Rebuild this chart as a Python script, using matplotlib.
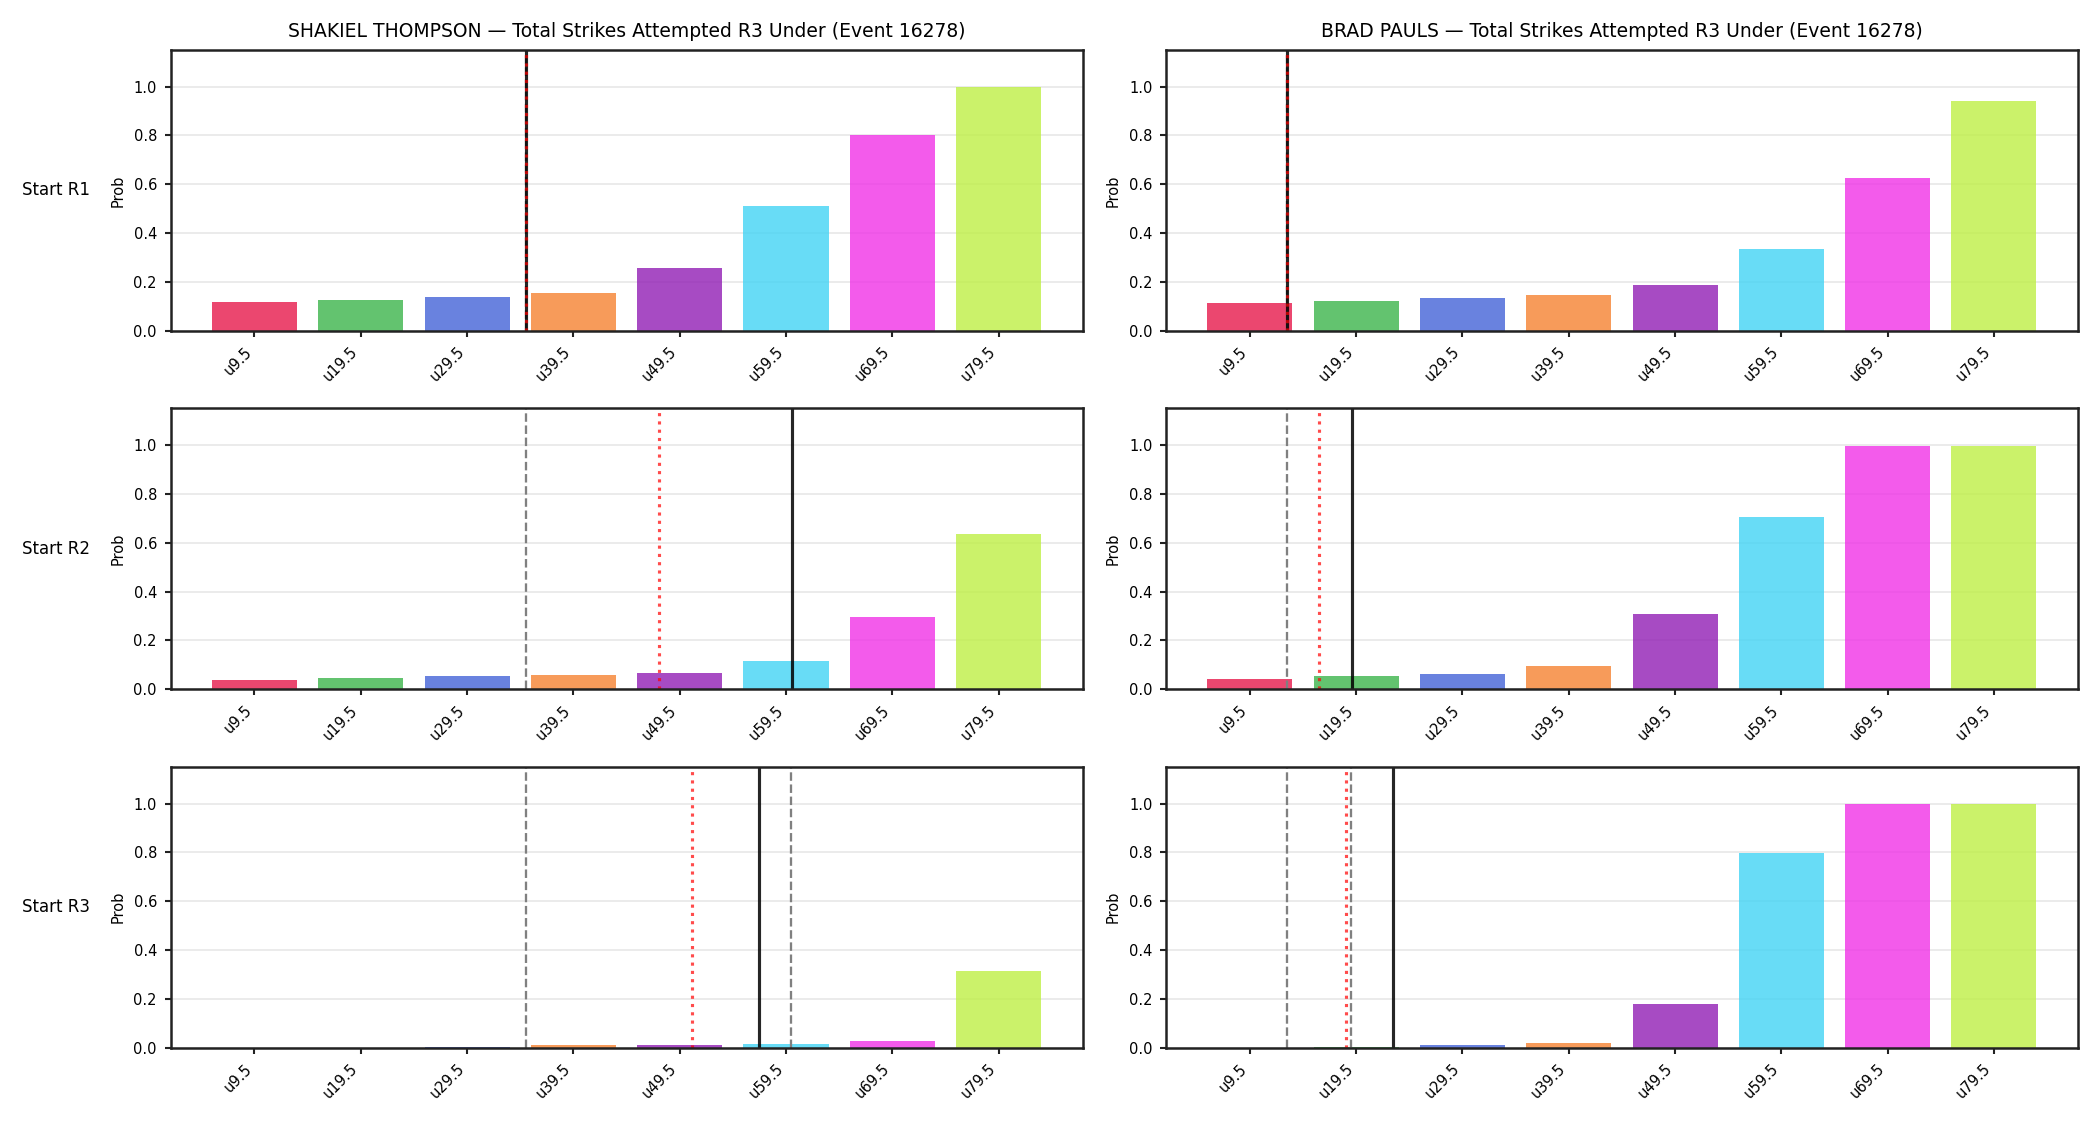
import numpy as np
import matplotlib.pyplot as plt

# under-lines on the x axis
lines_lbl = ["u9.5", "u19.5", "u29.5", "u39.5", "u49.5", "u59.5", "u69.5", "u79.5"]
thresholds = [9.5, 19.5, 29.5, 39.5, 49.5, 59.5, 69.5, 79.5]
colors = ["#e6194b", "#3cb44b", "#4363d8", "#f58231", "#911eb4", "#42d4f4", "#f032e6", "#bfef45"]

fighters = ["SHAKIEL THOMPSON", "BRAD PAULS"]
rounds = ["Start R1", "Start R2", "Start R3"]
event_id = 16278

# probabilities per round start
thompson_r1 = [0.119, 0.126, 0.140, 0.156, 0.259, 0.512, 0.800, 0.999]
thompson_r2 = [0.036, 0.044, 0.056, 0.060, 0.068, 0.115, 0.295, 0.635]
thompson_r3 = [0.000, 0.000, 0.002, 0.010, 0.010, 0.014, 0.026, 0.313]

pauls_r1 = [0.114, 0.122, 0.136, 0.147, 0.188, 0.336, 0.627, 0.940]
pauls_r2 = [0.041, 0.056, 0.064, 0.094, 0.308, 0.704, 0.997, 0.997]
pauls_r3 = [0.000, 0.003, 0.010, 0.018, 0.178, 0.796, 0.997, 0.997]

# reference strike counts (gray dashed), projection (red dotted), pace (black)
thompson_ref = [[35.0], [35.0], [35.0, 60.0]]
thompson_proj = [35.0, 47.6, 50.7]
thompson_pace = [35.0, 60.1, 57.0]

pauls_ref = [[13.0], [13.0], [13.0, 19.0]]
pauls_proj = [13.0, 16.0, 18.5]
pauls_pace = [13.0, 19.1, 23.0]

probs = [[thompson_r1, thompson_r2, thompson_r3], [pauls_r1, pauls_r2, pauls_r3]]
refs = [thompson_ref, pauls_ref]
projs = [thompson_proj, pauls_proj]
paces = [thompson_pace, pauls_pace]


def to_x(v):
    return np.interp(v, thresholds, np.arange(len(thresholds)))


fig, axes = plt.subplots(3, 2, figsize=(14, 7.5), dpi=150)
fig.subplots_adjust(left=0.0812, right=0.9895, top=0.9556, bottom=0.0687,
                    wspace=0.0914, hspace=0.2766)

x = np.arange(len(lines_lbl))
for c in range(2):
    for r in range(3):
        ax = axes[r, c]
        ax.bar(x, probs[c][r], color=colors, alpha=0.8)
        for v in refs[c][r]:
            ax.axvline(to_x(v), color="gray", ls="--", lw=1.1)
        ax.axvline(to_x(paces[c][r]), color="k", lw=1.5, alpha=0.85)
        ax.axvline(to_x(projs[c][r]), color="red", ls=":", lw=1.5, alpha=0.7)
        ax.set_ylim(0, 1.15)
        ax.set_xticks(x)
        ax.set_xticklabels(lines_lbl, rotation=45, ha="right")
        ax.tick_params(labelsize=7, length=3, width=1, color="#222222")
        ax.set_ylabel("Prob", fontsize=7)
        ax.grid(axis="y", alpha=0.3)
        ax.set_axisbelow(True)
        for s in ax.spines.values():
            s.set_linewidth(1.2)
            s.set_color("#222222")
        if r == 0:
            ax.set_title(f"{fighters[c]} \u2014 Total Strikes Attempted R3 Under (Event {event_id})",
                         fontsize=9)
        if c == 0:
            ax.text(-0.088, 0.5, rounds[r], transform=ax.transAxes,
                    ha="right", va="center", fontsize=8)

fig.savefig("out.png")
